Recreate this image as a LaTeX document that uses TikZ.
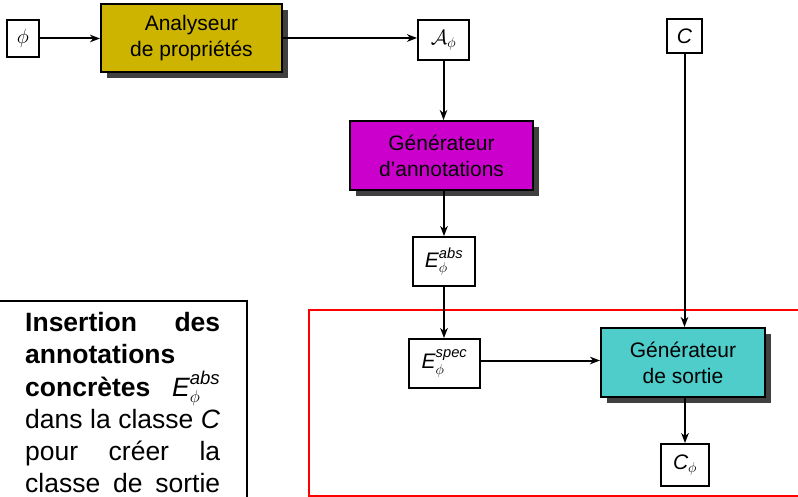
\documentclass[tikz,border=0pt]{standalone}
\usepackage{amsmath}
\usepackage{fontspec}
\setmainfont{Liberation Sans}
\usetikzlibrary{arrows.meta,shadows}
\definecolor{olivegold}{RGB}{204,180,0}
\definecolor{magentabox}{RGB}{204,0,204}
\definecolor{cyanbox}{RGB}{78,205,203}
\definecolor{shadowgray}{RGB}{64,64,64}
\tikzset{
  varbox/.style={draw=black, line width=1.8pt, fill=white, inner sep=2pt, font=\fontsize{21}{25}\selectfont},
  procbox/.style={draw=black, line width=2pt, align=center, font=\fontsize{21}{26}\selectfont,
    drop shadow={shadow xshift=5.5pt, shadow yshift=-6pt, fill=shadowgray, opacity=1}},
  conn/.style={line width=2pt, -{Stealth[length=10pt,width=7.5pt,inset=3pt]}}
}
\begin{document}
\begin{tikzpicture}[x=1pt,y=-1pt]
\useasboundingbox (0,0) rectangle (798,497);
\clip (0,0) rectangle (798,497);
% red frame
\draw[red, line width=1.2pt] (309,310) rectangle (820,496);
% nodes
\node[varbox, minimum width=32pt, minimum height=37pt] (phi) at (23,38.5) {$\phi$};
\node[procbox, fill=olivegold, minimum width=181pt, minimum height=68pt] (ana) at (191.5,38) {Analyseur\\de propriétés};
\node[varbox, minimum width=51pt, minimum height=40pt] (aphi) at (443.5,40) {$\mathcal{A}_{\phi}$};
\node[varbox, minimum width=35pt, minimum height=34pt] (C) at (684.5,36) {\textit{C}};
\node[procbox, fill=magentabox, minimum width=183pt, minimum height=69pt] (gann) at (441.5,155.5) {Générateur\\d’annotations};
\node[varbox, minimum width=62pt, minimum height=49pt] (eabs) at (444,261.5) {$\textit{E}^{\textit{abs}}_{\phi}$};
\node[varbox, minimum width=71pt, minimum height=49pt] (espec) at (444.5,363.5) {$\textit{E}^{\textit{spec}}_{\phi}$};
\node[procbox, fill=cyanbox, minimum width=164pt, minimum height=69pt] (gsort) at (683,362.5) {Générateur\\de sortie};
\node[varbox, minimum width=48pt, minimum height=42pt] (cphi) at (685,465) {$\textit{C}_{\phi}$};
% explanatory box
\draw[line width=1.8pt] (-10,301) -- (247,301) -- (247,520);
\node[anchor=north west, inner sep=0pt] (note) at (25,312)
{\fontsize{26.5}{32.3}\selectfont\vbox{%
\hbox to 195pt{\bfseries Insertion\hfill des}%
\hbox to 195pt{\bfseries annotations\hfill}%
\hbox to 195pt{\bfseries concrètes\hfill\mdseries $\textit{E}^{\textit{abs}}_{\phi}$}%
\hbox to 195pt{dans\hfill la\hfill classe\hfill \textit{C}}%
\hbox to 195pt{pour\hfill créer\hfill la}%
\hbox to 195pt{classe\hfill de\hfill sortie}}};
% connectors
\draw[conn] (phi.east) -- (ana.west |- phi.east);
\draw[conn] (ana.east) -- (ana.east -| aphi.west);
\draw[conn] (aphi.south) -- (aphi.south |- gann.north);
\draw[conn] (eabs.north |- gann.south) -- (eabs.north);
\draw[conn] (eabs.south) -- (eabs.south |- espec.north);
\draw[conn] ([yshift=3pt]espec.east) -- ([yshift=3pt]espec.east -| gsort.west);
\draw[conn] (C.south) -- (C.south |- gsort.north);
\draw[conn] (cphi.north |- gsort.south) -- (cphi.north);
\end{tikzpicture}
\end{document}
